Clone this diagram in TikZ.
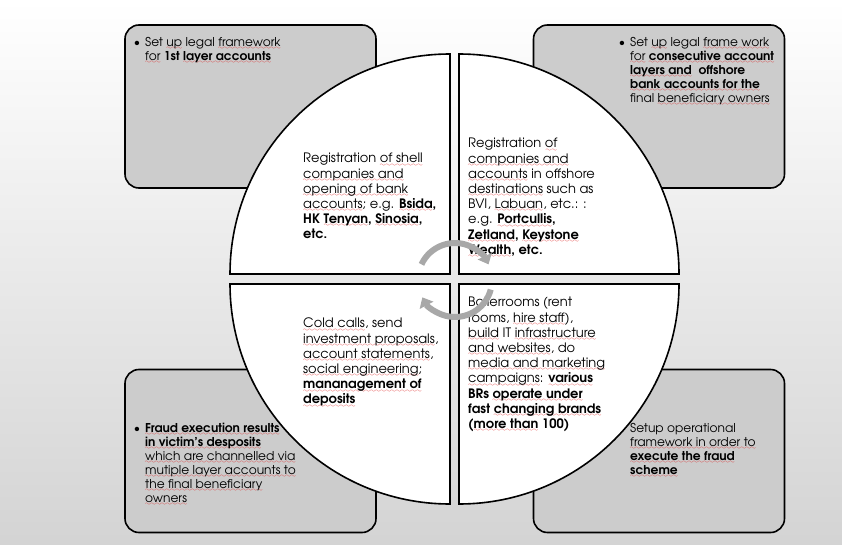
\documentclass[tikz,border=0pt]{standalone}
\usepackage{fontspec}
\setmainfont{texgyreadventor}[Extension=.otf,UprightFont=*-regular,BoldFont=*-bold,ItalicFont=*-italic,BoldItalicFont=*-bolditalic]
\usepackage{xcolor}
\usetikzlibrary{arrows.meta}

\definecolor{boxgray}{gray}{0.80}
\definecolor{arrowgray}{gray}{0.66}
\definecolor{squiggle}{RGB}{225,40,40}

% red spell-check wave under words
\font\wavyfont=lasy6
\newsavebox\wavyword
\newcommand\wavy[1]{\sbox\wavyword{#1}%
  \rlap{\hbox to \wd\wavyword{\color{squiggle}\xleaders\hbox{\lower3.3pt\hbox{\wavyfont\char58}}\hfill}}\usebox\wavyword}

\begin{document}
\begin{tikzpicture}[x=1pt, y=-1pt,
          panel/.style={draw, line width=1.6pt, rounded corners=14pt, fill=boxgray, minimum width=251pt, minimum height=163pt},
          quarter/.style={draw, line width=1.6pt, fill=white},
          qtext/.style={anchor=north west, inner sep=0pt, align=left, font=\fontsize{13}{15.2}\selectfont},
          btext/.style={anchor=north west, inner sep=0pt, align=left, font=\fontsize{12.2}{14}\selectfont},
          cyc/.style={draw=arrowgray, line width=6pt, -{Triangle[width=15pt,length=9pt]}}
      ]
        \useasboundingbox (0,0) rectangle (842,545);
        \shade[top color=white, bottom color=black!17] (0,0) rectangle (842,545);

        % corner panels
        \node[panel] (tlbox) at (250.5,106.5) {};
        \node[panel] (trbox) at (659,106.5) {};
        \node[panel] (blbox) at (250.5,451) {};
        \node[panel] (brbox) at (659,451) {};

        \node[btext] (tlnote) at (145,37) {\llap{\textbullet\hspace{5pt}}Set \wavy{up} legal \wavy{framework}\\
          \wavy{for} \textbf{1st \wavy{layer accounts}}};
        \node[btext] (trnote) at (630,37) {\llap{\textbullet\hspace{5pt}}Set \wavy{up} legal \wavy{frame work}\\
          \wavy{for} \textbf{\wavy{consecutive account}}\\
          \textbf{\wavy{layers and}\ \ offshore}\\
          \textbf{\wavy{bank accounts for the}}\\
          final \wavy{beneficiary owners}};
        \node[btext] (blnote) at (145,423) {\llap{\textbullet\hspace{5pt}}\textbf{\wavy{Fraud execution results}}\\
          \textbf{\wavy{in victim’s desposits}}\\
          \wavy{which are channelled via}\\
          \wavy{mutiple layer accounts to}\\
          \wavy{the final beneficiary}\\
          \wavy{owners}};
        \node[btext] (brnote) at (630,423) {Setup operational\\
          \wavy{framework in order to}\\
          \textbf{\wavy{execute the fraud}}\\
          \textbf{\wavy{scheme}}};

        % the four quarters of the circle
        \draw[quarter] (450,274) -- ++(0,-220) arc[start angle=270, end angle=180, radius=220] -- cycle;
        \draw[quarter] (459,274) -- ++(0,-220) arc[start angle=270, end angle=360, radius=220] -- cycle;
        \draw[quarter] (450,284) -- ++(0,220) arc[start angle=90, end angle=180, radius=220] -- cycle;
        \draw[quarter] (459,284) -- ++(0,220) arc[start angle=90, end angle=0, radius=220] -- cycle;

        \node[qtext] (shell) at (303,153) {Registration \wavy{of shell}\\
          \wavy{companies and}\\
          \wavy{opening of bank}\\
          \wavy{accounts}; e.g. \textbf{\wavy{Bsida},}\\
          \textbf{HK \wavy{Tenyan}, \wavy{Sinosia},}\\
          \textbf{etc.}};
        \node[qtext] (offshore) at (468,138) {Registration \wavy{of}\\
          \wavy{companies and}\\
          \wavy{accounts} in offshore\\
          \wavy{destinations} such as\\
          BVI, \wavy{Labuan}, etc.: :\\
          e.g. \textbf{\wavy{Portcullis},}\\
          \textbf{\wavy{Zetland}, \wavy{Keystone}}\\
          \textbf{\wavy{Wealth}, etc.}};
        \node[qtext] (calls) at (303,318) {\wavy{Cold calls}, send\\
          \wavy{investment proposals},\\
          \wavy{account statements},\\
          \wavy{social engineering};\\
          \textbf{\wavy{mananagement of}}\\
          \textbf{\wavy{deposits}}};
        \node[qtext] (boiler) at (468,297) {Boilerrooms (rent\\
          rooms, \wavy{hire staff}),\\
          \wavy{build} IT \wavy{infrastructure}\\
          \wavy{and websites}, do\\
          \wavy{media and marketing}\\
          \wavy{campaigns}: \textbf{\wavy{various}}\\
          \textbf{BRs \wavy{operate under}}\\
          \textbf{fast \wavy{changing brands}}\\
          \textbf{(\wavy{more than} 100)}};

        % cycle arrows in the middle
        \coordinate (hub) at (455,280);
        \draw[cyc] (hub) ++(205:37) arc[start angle=205, end angle=335, radius=37];
        \draw[cyc] (hub) ++(15:37) arc[start angle=15, end angle=152, radius=37];
      \end{tikzpicture}
\end{document}
